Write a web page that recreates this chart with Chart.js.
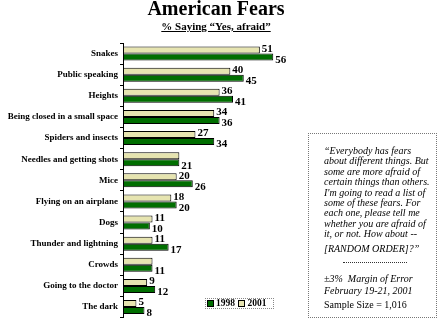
<!DOCTYPE html>
<html>
<head>
<meta charset="utf-8">
<script src="https://cdn.jsdelivr.net/npm/chart.js@4.4.0/dist/chart.umd.min.js"></script>
<style>
    html, body {
        margin: 0;
        padding: 0;
        background: #ffffff;
        font-family: "Liberation Serif", "DejaVu Serif", serif;
        color: #000;
    }
    .wrap {
        position: relative;
        width: 444px;
        height: 325px;
        overflow: hidden;
    }
    #fearsChart {
        position: absolute;
        left: 0;
        top: 0;
    }
    .title {
        position: absolute;
        left: 0;
        width: 432px;
        top: -2px;
        text-align: center;
        font-weight: bold;
        font-size: 20px;
        line-height: 20px;
    }
    .subtitle {
        position: absolute;
        left: 0;
        width: 432px;
        top: 20px;
        text-align: center;
        font-weight: bold;
        font-size: 11px;
        line-height: 12px;
    }
    .subtitle span {
        text-decoration: underline;
    }
    .legend {
        position: absolute;
        left: 205px;
        top: 298px;
        width: 67px;
        height: 9px;
        border: 1px dotted #888;
        font-weight: bold;
        font-size: 9.5px;
        line-height: 9px;
        white-space: nowrap;
    }
    .legend .sw {
        display: inline-block;
        width: 5px;
        height: 5px;
        border: 1px solid #000;
        vertical-align: -1px;
        margin: 0 2px 0 1px;
    }
    .note {
        position: absolute;
        left: 308px;
        top: 133px;
        width: 127px;
        height: 183px;
        border: 1px dotted #777;
    }
    .note div {
        position: absolute;
        left: 15px;
        white-space: nowrap;
        font-size: 10px;
        line-height: 10.4px;
    }
    .note .it {
        font-style: italic;
    }
    .note .sep {
        left: 34px;
        width: 64px;
        height: 0;
        border-top: 1px dotted #333;
    }
</style>
</head>
<body>
<div class="wrap">
    <canvas id="fearsChart" width="444" height="325"></canvas>
    <div class="title">American Fears</div>
    <div class="subtitle"><span>% Saying “Yes, afraid”</span></div>
    <div class="legend"><span class="sw" style="background:#006e00"></span>1998 <span class="sw" style="background:#e6e4b0"></span>2001</div>
    <div class="note">
        <div class="it" style="top:12px">“Everybody has fears<br>about different things. But<br>some are more afraid of<br>certain things than others.<br>I'm going to read a list of<br>some of these fears. For<br>each one, please tell me<br>whether you are afraid of<br>it, or not. How about --</div>
        <div class="it" style="top:110px">[RANDOM ORDER]?”</div>
        <div class="sep" style="top:128px"></div>
        <div class="it" style="top:140px">±3%&nbsp; Margin of Error</div>
        <div class="it" style="top:152px">February 19-21, 2001</div>
        <div style="top:166px">Sample Size = 1,016</div>
    </div>
</div>

<script>
    // Chart data
    const categories = [
        'Snakes',
        'Public speaking',
        'Heights',
        'Being closed in a small space',
        'Spiders and insects',
        'Needles and getting shots',
        'Mice',
        'Flying on an airplane',
        'Dogs',
        'Thunder and lightning',
        'Crowds',
        'Going to the doctor',
        'The dark'
    ];
    const values2001 = [51, 40, 36, 34, 27, 21, 20, 18, 11, 11, 11, 9, 5];
    const values1998 = [56, 45, 41, 36, 34, 21, 26, 20, 10, 17, 11, 12, 8];

    const serif = '"Liberation Serif", "DejaVu Serif", serif';

    // Numbers at the end of each bar
    const valueLabels = {
        id: 'valueLabels',
        afterDatasetsDraw(chart) {
            const ctx = chart.ctx;
            ctx.save();
            ctx.font = 'bold 11px ' + serif;
            ctx.fillStyle = '#000';
            ctx.textAlign = 'left';
            ctx.textBaseline = 'middle';
            chart.data.datasets.forEach((ds, di) => {
                const meta = chart.getDatasetMeta(di);
                meta.data.forEach((bar, i) => {
                    // when both years agree only the 1998 number is printed
                    if (di === 0 && ds.data[i] === values1998[i]) return;
                    const dy = di === 0 ? -1 : 3;
                    ctx.fillText(ds.data[i], bar.x + 2, bar.y + dy);
                });
            });
            ctx.restore();
        }
    };

    function initChart() {
        const ctx = document.getElementById('fearsChart').getContext('2d');
        new Chart(ctx, {
            type: 'bar',
            data: {
                labels: categories,
                datasets: [{
                    label: '2001',
                    data: values2001,
                    backgroundColor: '#e6e4b0',
                    borderColor: '#000',
                    borderWidth: 1,
                    borderSkipped: false
                }, {
                    label: '1998',
                    data: values1998,
                    backgroundColor: '#006e00',
                    borderColor: '#000',
                    borderWidth: 1,
                    borderSkipped: false
                }]
            },
            options: {
                indexAxis: 'y',
                responsive: false,
                animation: false,
                layout: {
                    padding: { top: 43, bottom: 3, right: 160, left: 0 }
                },
                datasets: {
                    bar: {
                        categoryPercentage: 0.66,
                        barPercentage: 1
                    }
                },
                plugins: {
                    legend: { display: false },
                    tooltip: { enabled: false },
                    title: { display: false }
                },
                scales: {
                    x: {
                        display: false,
                        min: 0,
                        max: 60
                    },
                    y: {
                        afterFit: function(scale) {
                            scale.width = 123;
                        },
                        border: {
                            display: true,
                            color: '#000',
                            width: 1
                        },
                        grid: {
                            drawOnChartArea: false,
                            drawTicks: true,
                            tickLength: 3,
                            color: '#000'
                        },
                        ticks: {
                            color: '#000',
                            padding: 2,
                            font: {
                                family: serif,
                                size: 9,
                                weight: 'bold'
                            }
                        }
                    }
                }
            },
            plugins: [valueLabels]
        });
    }

    document.addEventListener('DOMContentLoaded', () => {
        initChart();
    });
</script>
</body>
</html>
